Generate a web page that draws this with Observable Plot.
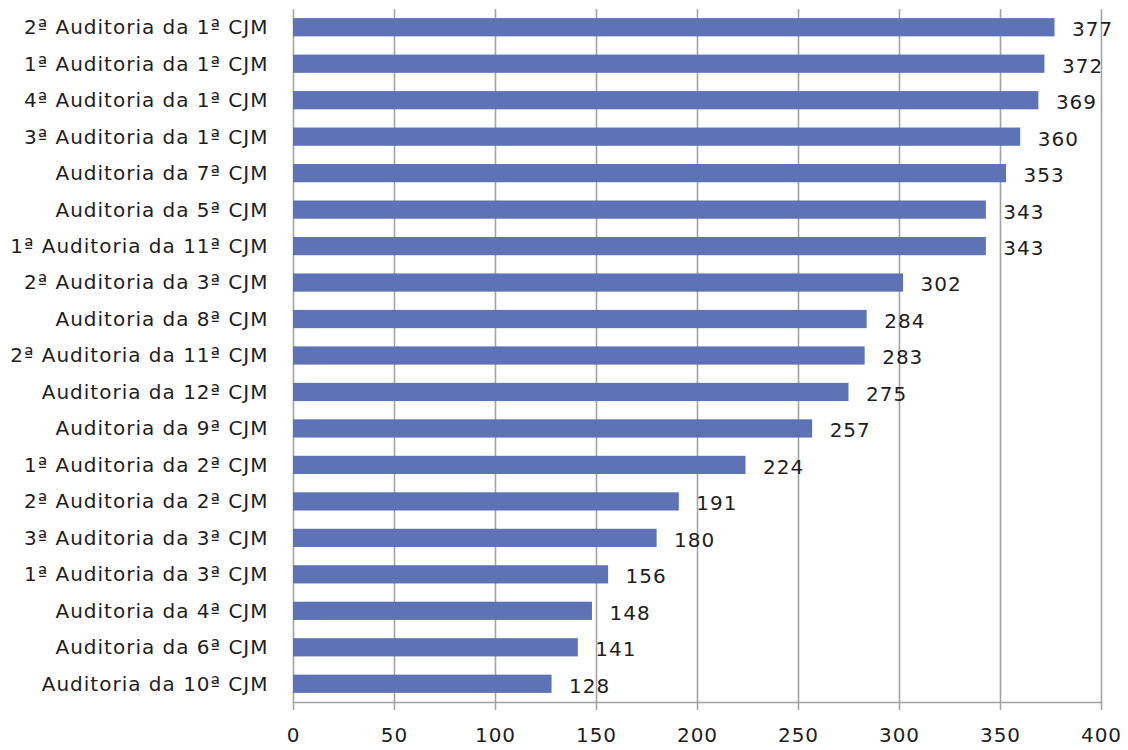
<!DOCTYPE html>
<html>
<head>
<meta charset="utf-8">
<script src="https://cdn.jsdelivr.net/npm/d3@7"></script>
<script src="https://cdn.jsdelivr.net/npm/@observablehq/plot@0.6"></script>
<style>
  html, body { margin: 0; padding: 0; background: #fff; }
  #chart svg { display: block; }
</style>
</head>
<body>
<div id="chart"></div>
<script>
// Courts (auditorias), ordered from most to fewest
const auditorias = [
  "2ª Auditoria da 1ª CJM",
  "1ª Auditoria da 1ª CJM",
  "4ª Auditoria da 1ª CJM",
  "3ª Auditoria da 1ª CJM",
  "Auditoria da 7ª CJM",
  "Auditoria da 5ª CJM",
  "1ª Auditoria da 11ª CJM",
  "2ª Auditoria da 3ª CJM",
  "Auditoria da 8ª CJM",
  "2ª Auditoria da 11ª CJM",
  "Auditoria da 12ª CJM",
  "Auditoria da 9ª CJM",
  "1ª Auditoria da 2ª CJM",
  "2ª Auditoria da 2ª CJM",
  "3ª Auditoria da 3ª CJM",
  "1ª Auditoria da 3ª CJM",
  "Auditoria da 4ª CJM",
  "Auditoria da 6ª CJM",
  "Auditoria da 10ª CJM"
];
const totais = [377, 372, 369, 360, 353, 343, 343, 302, 284, 283, 275, 257, 224, 191, 180, 156, 148, 141, 128];
const xTicks = [0, 50, 100, 150, 200, 250, 300, 350, 400];

const rows = auditorias.map((nome, i) => ({nome, total: totais[i]}));

const FONT = "DejaVu Sans";
const SIZE = 20;
const INK = "#1e1e1e";
const GRID = "#a3a3a3";

const chart = Plot.plot({
  width: 1128,
  height: 750,
  marginLeft: 293,
  marginRight: 27,
  marginTop: 9,
  marginBottom: 48,
  style: {fontFamily: FONT, fontSize: SIZE + "px", letterSpacing: "1px", color: INK, background: "#fff"},
  x: {domain: [0, 400], ticks: xTicks, label: null},
  y: {domain: auditorias, paddingInner: 0.5, paddingOuter: 0.25, round: false, label: null},
  marks: [
    Plot.gridX(xTicks, {stroke: GRID, strokeOpacity: 1, strokeWidth: 1.6}),
    Plot.frame({anchor: "bottom", stroke: GRID, strokeWidth: 1.6}),
    Plot.axisX(xTicks, {tickSize: 8, tickPadding: 17, stroke: GRID, strokeWidth: 1.6, strokeOpacity: 1,
      fill: INK, fontSize: SIZE, label: null, tickFormat: d => String(d)}),
    Plot.axisY({tickSize: 0, tickPadding: 25, fill: INK, fontSize: SIZE, label: null}),
    Plot.barX(rows, {x: "total", y: "nome", fill: "#5e73b6"}),
    Plot.text(rows, {x: "total", y: "nome", text: d => String(d.total), dx: 17, dy: 2,
      textAnchor: "start", fill: INK, fontSize: SIZE})
  ]
});
document.getElementById("chart").appendChild(chart);
</script>
</body>
</html>
